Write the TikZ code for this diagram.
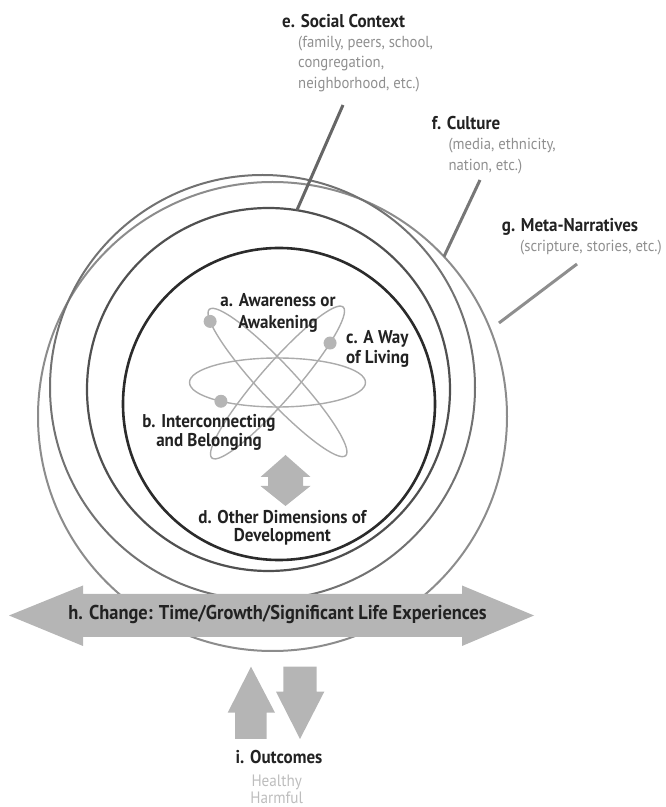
\documentclass[tikz,border=0pt]{standalone}
\usepackage{fontspec}
\setmainfont{PT Sans}[FakeStretch=0.92]
\usetikzlibrary{calc}
\definecolor{inkdark}{HTML}{222222}
\definecolor{subgray}{HTML}{8F8F8F}
\definecolor{palegray}{HTML}{BDBDBD}
\definecolor{fillgray}{HTML}{B5B5B5}
\definecolor{orbitgray}{HTML}{ABABAB}
\definecolor{ringD}{HTML}{2B2B2B}
\definecolor{ringE}{HTML}{505050}
\definecolor{ringF}{HTML}{727272}
\definecolor{ringG}{HTML}{8C8C8C}
\definecolor{leadE}{HTML}{666666}
\definecolor{leadF}{HTML}{777777}
\definecolor{leadG}{HTML}{8E8E8E}

\begin{document}
\begin{tikzpicture}[x=1pt,y=1pt,
  ring/.style={circle, inner sep=0pt, outer sep=0pt, minimum size=#1},
  title/.style={font=\bfseries\fontsize{18.5}{20.5}\selectfont, text=inkdark, inner sep=0pt},
  subtitle/.style={font=\fontsize{16}{20.5}\selectfont, text=subgray, inner sep=0pt},
  outcome/.style={font=\fontsize{16.5}{18}\selectfont, text=palegray, inner sep=0pt},
  leader/.style={line width=3pt},
  orbit/.style={draw=orbitgray, line width=1.4pt},
  electron/.style={fill=fillgray},
  band/.style={fill=fillgray},
]
\useasboundingbox (0,0) rectangle (666,807);

% concentric context rings
\node[ring=469pt, draw=ringG, line width=2pt] (ringg) at (272.5,390.5) {};
\node[ring=425pt, draw=ringF, line width=2pt] (ringf) at (262.5,419.5) {};
\node[ring=363pt, draw=ringE, line width=2.2pt] (ringe) at (268.5,417.5) {};
\node[ring=312pt, draw=ringD, line width=2.6pt] (ringd) at (279,403) {};

% atom of the three core dimensions
\coordinate (atom) at (277.5,424.5);
\draw[orbit] (atom) ellipse (88pt and 24.5pt);
\path (atom) ++(230:88pt and 24.5pt) coordinate (dotb);
\begin{scope}[shift={(atom)}, rotate=-47]
  \draw[orbit] (0,0) ellipse (100pt and 18pt);
  \path (205:100pt and 18pt) coordinate (dota);
\end{scope}
\begin{scope}[shift={(atom)}, rotate=49]
  \draw[orbit] (0,0) ellipse (100pt and 18pt);
  \path (-50:100pt and 18pt) coordinate (dotc);
\end{scope}
\fill[electron] (dota) circle (6.5pt);
\fill[electron] (dotb) circle (6.5pt);
\fill[electron] (dotc) circle (6.5pt);

% small two-way arrow to other dimensions
\fill[band] (285.5,352) -- (310.5,330) -- (303,330) -- (303,321) -- (310.5,321)
  -- (285.5,301) -- (260.5,321) -- (268,321) -- (268,330) -- (260.5,330) -- cycle;

% inner labels (base anchor sits on the last line)
\node[title, font=\bfseries\fontsize{18.5}{21.6}\selectfont, align=center, anchor=base] (alabel) at (278,478.7) {a. Awareness or\\Awakening};
\node[title, font=\bfseries\fontsize{18.5}{20}\selectfont, align=left, anchor=base west] (clabel) at (346,443.7) {c. A Way\\of Living};
\node[title, font=\bfseries\fontsize{18.5}{19.4}\selectfont, align=center, anchor=base] (blabel) at (209,360.3) {b. Interconnecting\\and Belonging};
\node[title, font=\bfseries\fontsize{18.5}{18.6}\selectfont, align=center, anchor=base] (dlabel) at (282.3,265.3) {d. Other Dimensions of\\Development};

% outer labels and leaders
\node[title, anchor=base west] (etitle) at (282,779.7) {e. Social Context};
\node[subtitle, align=left, anchor=base west] (esub) at (298,718.7) {(family, peers, school,\\congregation,\\neighborhood, etc.)};
\node[title, anchor=base west] (ftitle) at (431.7,677) {f. Culture};
\node[subtitle, align=left, anchor=base west] (fsub) at (448.3,636.5) {(media, ethnicity,\\nation, etc.)};
\node[title, anchor=base west] (gtitle) at (501.7,575.3) {g. Meta-Narratives};
\node[subtitle, anchor=base west] (gsub) at (520,555.3) {(scripture, stories, etc.)};

\coordinate (etop) at (343,702);
\coordinate (ftop) at (480,627);
\coordinate (gtop) at (577,543);
\coordinate (gend) at (499,484);
\draw[leader, draw=leadE] (etop) -- (ringe.81);
\draw[leader, draw=leadF] (ftop) -- (ringg.43);
\draw[leader, draw=leadG] (gtop) -- (gend);

% change over time
\fill[band] (9,191.5) -- (83,221.5) -- (83,213) -- (462,213) -- (462,221.5) -- (534,191.5)
  -- (462,161) -- (462,170) -- (83,170) -- (83,161) -- cycle;
\node[title, font=\bfseries\fontsize{20}{22}\selectfont, anchor=base] (hlabel) at (277.5,187)
  {h. Change: Time/Growth/Significant Life Experiences};

% outcomes
\fill[band] (251,140.3) -- (275,94.3) -- (266.7,94.3) -- (266.7,68) -- (235,68) -- (235,94.3) -- (227.7,94.3) -- cycle;
\fill[band] (283.3,140.3) -- (316.7,140.3) -- (316.7,115.3) -- (324.3,115.3) -- (300,68) -- (276,115.3) -- (283.3,115.3) -- cycle;
\node[title, anchor=base] (ilabel) at (279,43) {i. Outcomes};
\node[outcome, anchor=base] (healthy) at (276.7,20.3) {Healthy};
\node[outcome, anchor=base] (harmful) at (276.7,3) {Harmful};
\end{tikzpicture}
\end{document}
